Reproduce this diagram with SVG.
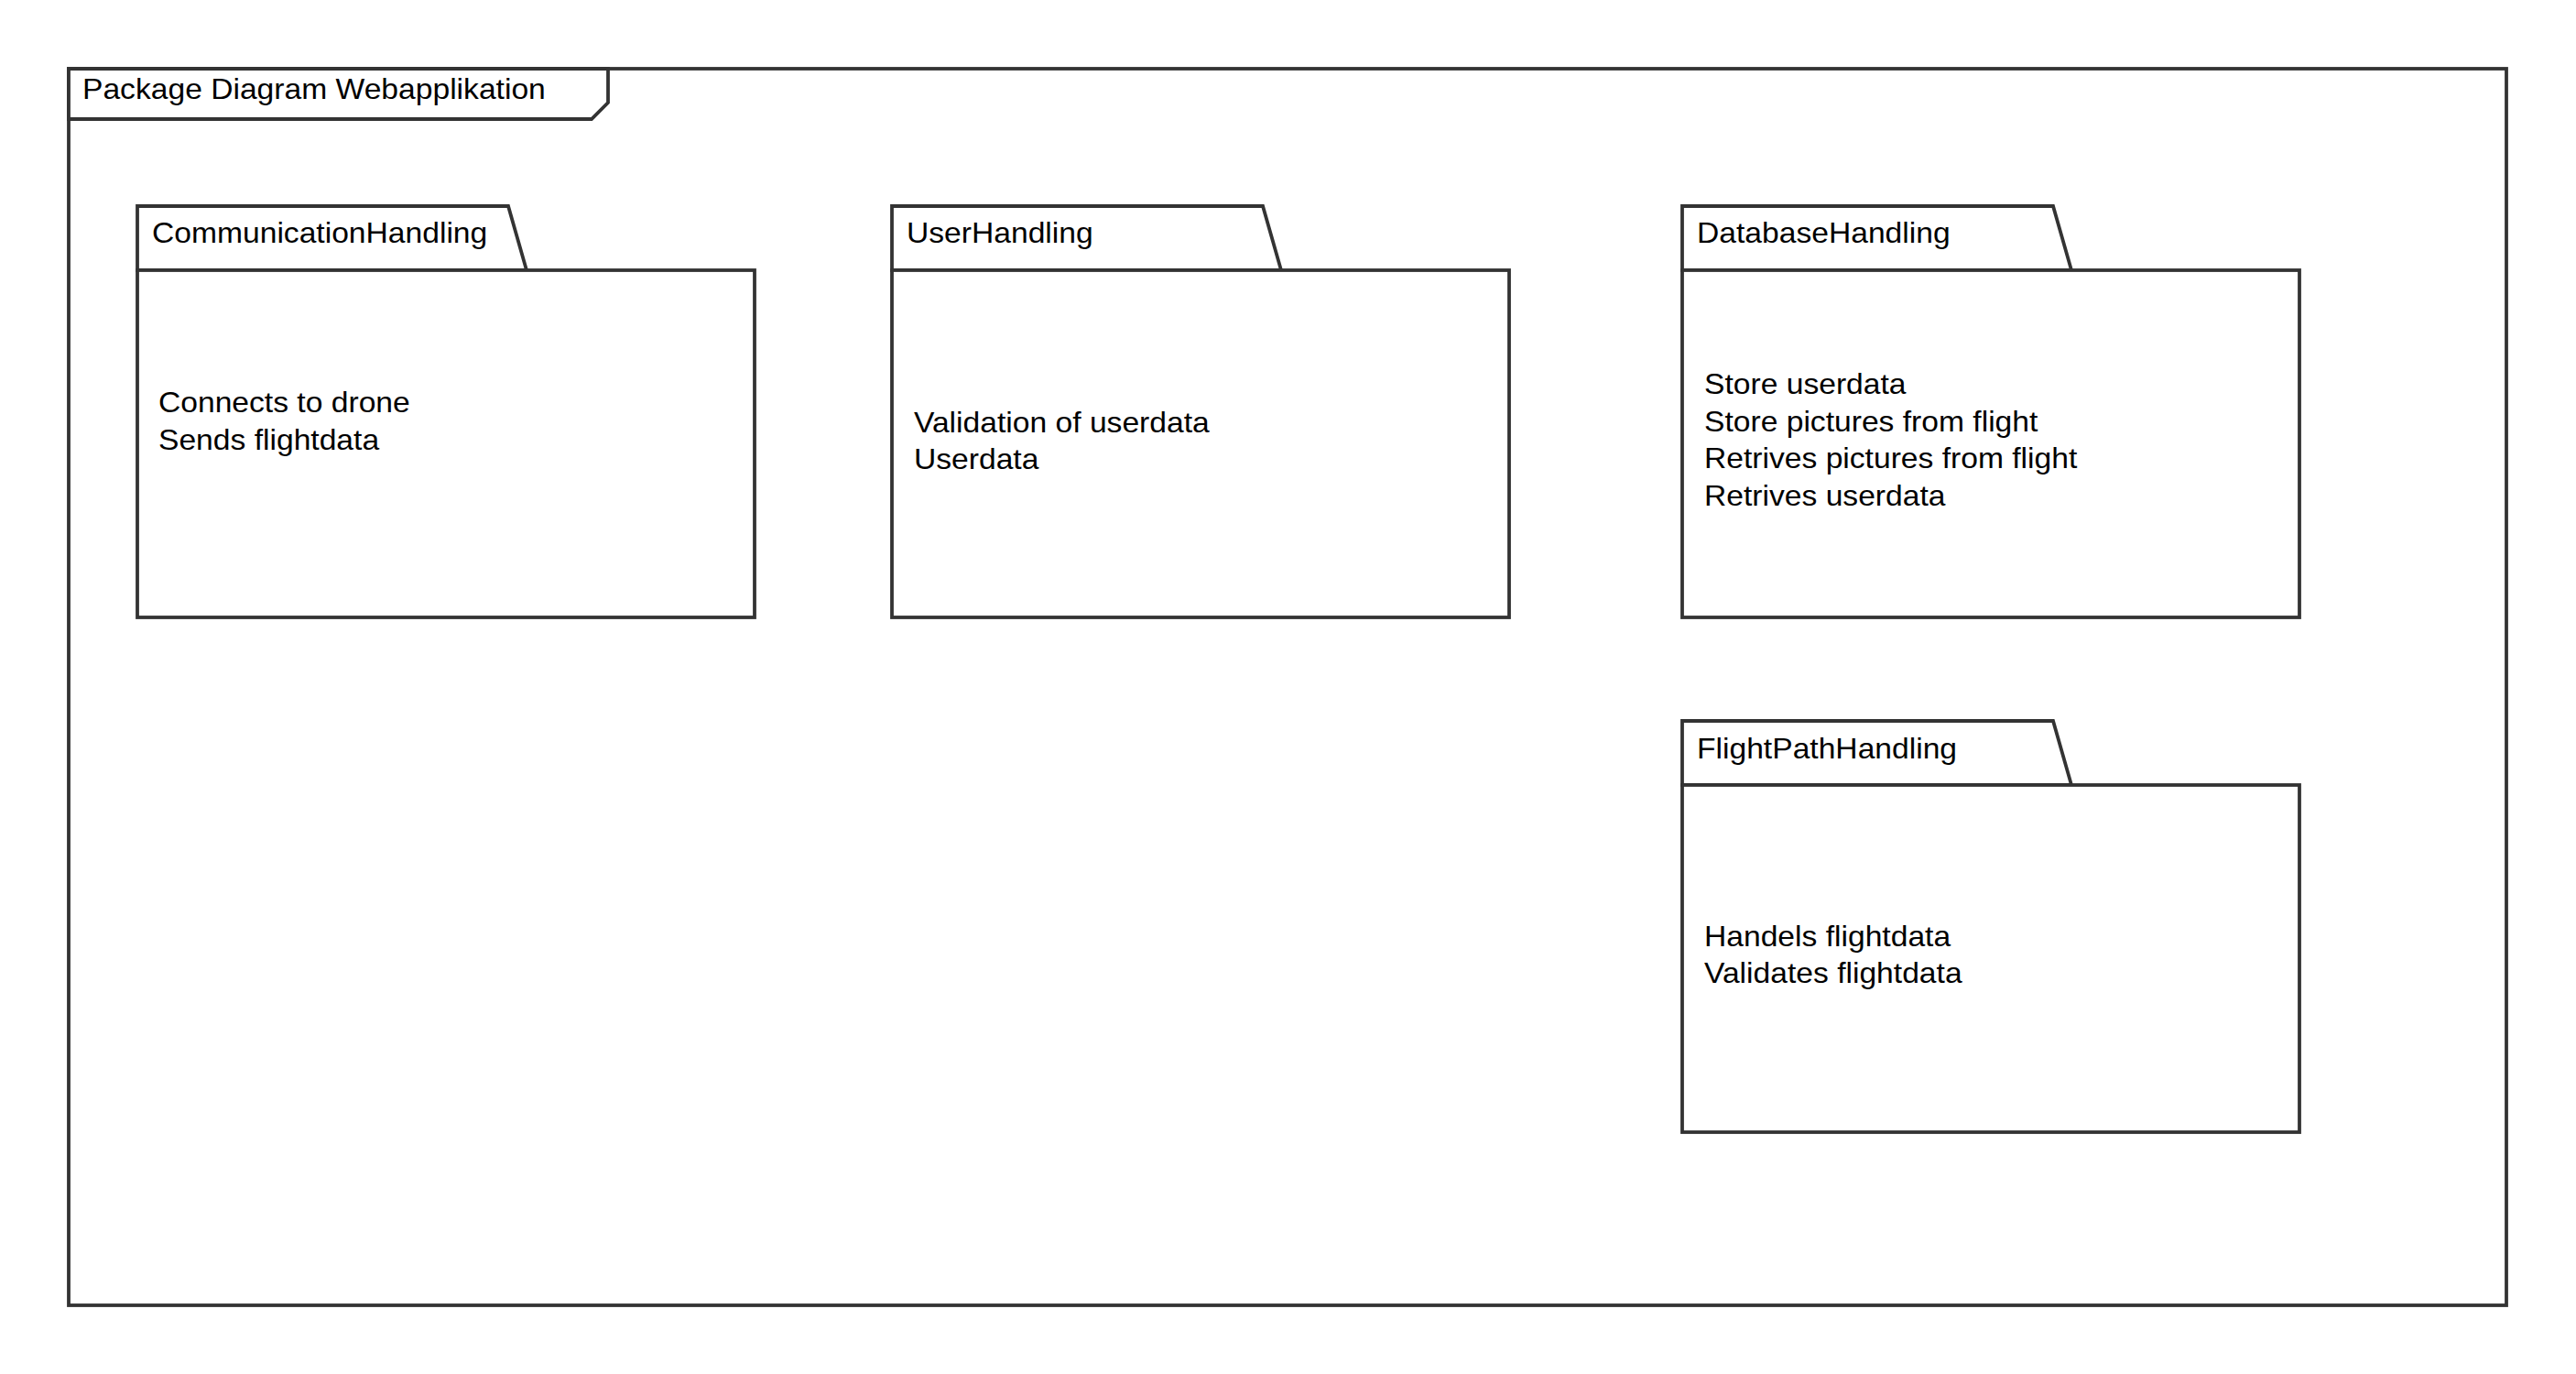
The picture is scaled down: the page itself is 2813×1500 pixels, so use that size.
<svg xmlns="http://www.w3.org/2000/svg" width="2813" height="1500" viewBox="0 0 2813 1500">
<style>
.ln{fill:#ffffff;stroke:#333333;stroke-width:3.8;stroke-linejoin:miter}
.t{font-family:"Liberation Sans",Arial,sans-serif;font-size:31px;fill:#000000}
</style>
<rect x="0" y="0" width="2813" height="1500" fill="#ffffff"/>
<g id="frame">
<rect class="ln" x="75" y="75" width="2662" height="1350"/>
<path class="ln" d="M75,75 H664 V112 L646,130 H75 Z"/>
<text class="t" transform="translate(90 108) scale(1.085 1)">Package Diagram Webapplikation</text>
</g>
<g id="CommunicationHandling">
<path class="ln" d="M150,225 H555 L575,295 H150 Z"/>
<rect class="ln" x="150" y="295" width="674" height="379"/>
<text class="t" transform="translate(166 265) scale(1.085 1)">CommunicationHandling</text>
<text class="t" transform="translate(173 450) scale(1.085 1)">Connects to drone</text>
<text class="t" transform="translate(173 490.5) scale(1.085 1)">Sends flightdata</text>
</g>
<g id="UserHandling">
<path class="ln" d="M974,225 H1379 L1399,295 H974 Z"/>
<rect class="ln" x="974" y="295" width="674" height="379"/>
<text class="t" transform="translate(990 265) scale(1.085 1)">UserHandling</text>
<text class="t" transform="translate(998 471.5) scale(1.085 1)">Validation of userdata</text>
<text class="t" transform="translate(998 511.5) scale(1.085 1)">Userdata</text>
</g>
<g id="DatabaseHandling">
<path class="ln" d="M1837,225 H2242 L2262,295 H1837 Z"/>
<rect class="ln" x="1837" y="295" width="674" height="379"/>
<text class="t" transform="translate(1853 265) scale(1.085 1)">DatabaseHandling</text>
<text class="t" transform="translate(1861 430) scale(1.085 1)">Store userdata</text>
<text class="t" transform="translate(1861 470.5) scale(1.085 1)">Store pictures from flight</text>
<text class="t" transform="translate(1861 511) scale(1.085 1)">Retrives pictures from flight</text>
<text class="t" transform="translate(1861 551.5) scale(1.085 1)">Retrives userdata</text>
</g>
<g id="FlightPathHandling">
<path class="ln" d="M1837,787 H2242 L2262,857 H1837 Z"/>
<rect class="ln" x="1837" y="857" width="674" height="379"/>
<text class="t" transform="translate(1853 828) scale(1.085 1)">FlightPathHandling</text>
<text class="t" transform="translate(1861 1033) scale(1.085 1)">Handels flightdata</text>
<text class="t" transform="translate(1861 1073) scale(1.085 1)">Validates flightdata</text>
</g>
<g id="connectors"/>
</svg>
